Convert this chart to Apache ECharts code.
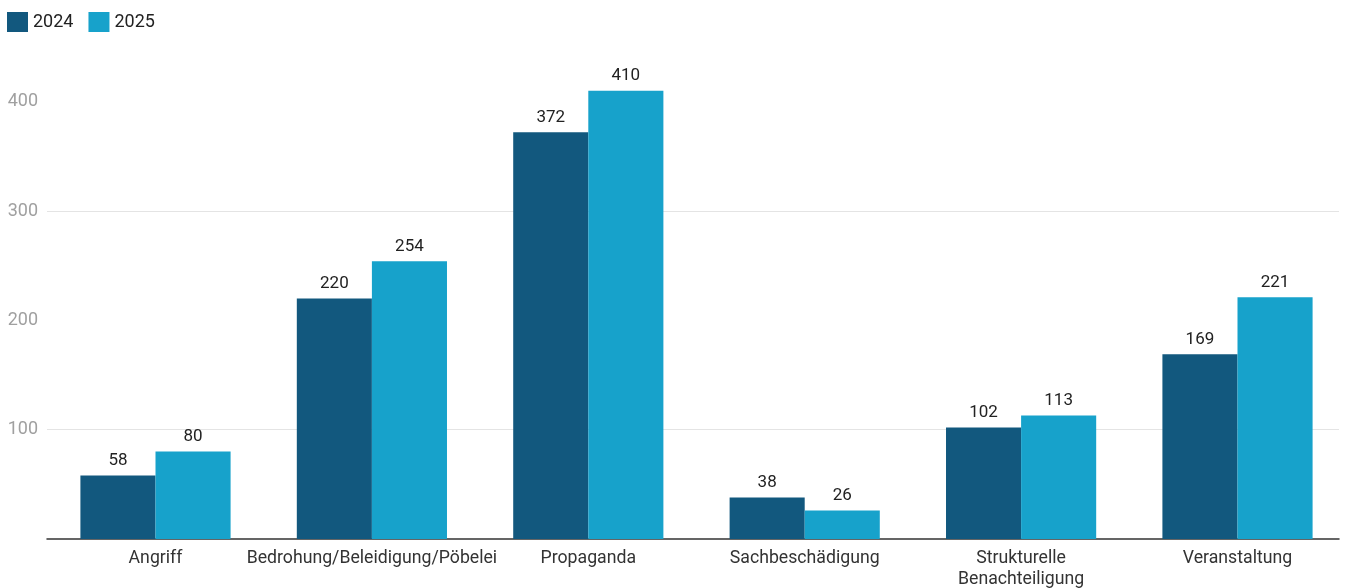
<!DOCTYPE html>
<html><head><meta charset="utf-8">
<script src="https://cdn.jsdelivr.net/npm/echarts@6/dist/echarts.min.js"></script>
<style>html,body{margin:0;padding:0;background:#fff}#c{width:1349px;height:588px}</style>
</head><body><div id="c"></div>
<script>
const categories = ['Angriff','Bedrohung/Beleidigung/Pöbelei','Propaganda','Sachbeschädigung','Strukturelle\nBenachteiligung','Veranstaltung'];
const values2024 = [58,220,372,38,102,169];
const values2025 = [80,254,410,26,113,221];
const seriesNames = ['2024','2025'];
const yTickLabels = [100,200,300,400];
const chart = echarts.init(document.getElementById('c'));
const lbl = {show:true, position:'top', distance:6, fontFamily:'Roboto', fontSize:17, color:'#222'};
const yCommon = {type:'value', min:0, max:450, interval:50};
chart.setOption({
  animation:false,
  textStyle:{fontFamily:'Roboto'},
  legend:{left:2, top:7, itemWidth:21, itemHeight:20, itemGap:15, icon:'rect',
    textStyle:{fontSize:18, color:'#222', fontFamily:'Roboto'}, data:seriesNames},
  grid:[
    {left:47, right:10, top:47, bottom:49, containLabel:false, outerBoundsMode:'none'},
    {left:47.3, right:3.3, top:47, bottom:49, containLabel:false, outerBoundsMode:'none'}
  ],
  xAxis:[
    {type:'category', gridIndex:0, data:categories,
      axisLine:{lineStyle:{color:'#333', width:1.5}}, axisTick:{show:false}, axisLabel:{show:false}},
    {type:'category', gridIndex:1, data:categories,
      axisLine:{show:false}, axisTick:{show:false},
      axisLabel:{fontSize:17.7, color:'#333', margin:9, lineHeight:21, interval:0}}
  ],
  yAxis:[
    Object.assign({gridIndex:0,
      axisLine:{show:false}, axisTick:{show:false},
      axisLabel:{fontSize:18, color:'#a0a0a0', margin:9,
        formatter:v => yTickLabels.includes(v) ? String(v) : ''},
      splitLine:{lineStyle:{color:['rgba(0,0,0,0)','rgba(0,0,0,0)','#e4e4e4','rgba(0,0,0,0)'], width:1}}}, yCommon),
    Object.assign({gridIndex:1, show:false, splitLine:{show:false}}, yCommon)
  ],
  series:[
    {name:'2024', type:'bar', xAxisIndex:1, yAxisIndex:1, data:values2024, itemStyle:{color:'#12587e'}, barGap:'0%', barCategoryGap:'30.6%', label:lbl},
    {name:'2025', type:'bar', xAxisIndex:1, yAxisIndex:1, data:values2025, itemStyle:{color:'#17a2cb'}, barGap:'0%', barCategoryGap:'30.6%', label:lbl}
  ]
});
</script></body></html>
